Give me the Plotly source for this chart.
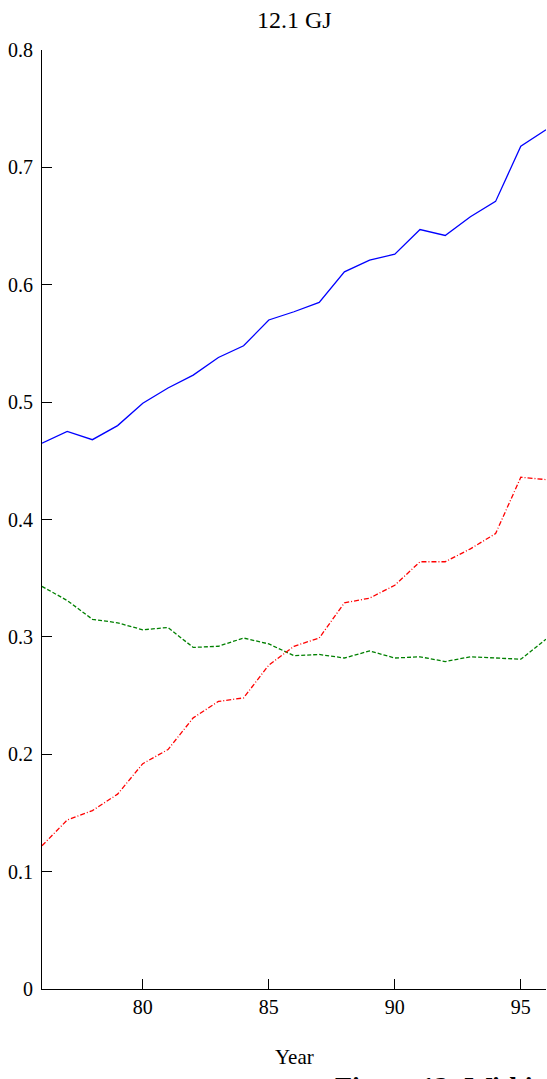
import plotly.graph_objects as go

years = list(range(76, 97))
blue = [0.465, 0.475, 0.468, 0.480, 0.499, 0.512, 0.523, 0.538, 0.548, 0.570, 0.577,
        0.585, 0.611, 0.621, 0.626, 0.647, 0.642, 0.658, 0.671, 0.718, 0.732]
green = [0.343, 0.331, 0.315, 0.312, 0.306, 0.308, 0.291, 0.292, 0.299, 0.294, 0.284,
         0.285, 0.282, 0.288, 0.282, 0.283, 0.279, 0.283, 0.282, 0.281, 0.298]
red = [0.122, 0.144, 0.152, 0.166, 0.192, 0.204, 0.231, 0.245, 0.248, 0.276, 0.292,
       0.299, 0.329, 0.333, 0.344, 0.364, 0.364, 0.375, 0.388, 0.436, 0.434]

y_ticks = [0, 0.1, 0.2, 0.3, 0.4, 0.5, 0.6, 0.7, 0.8]
y_labels = ["0", "0.1", "0.2", "0.3", "0.4", "0.5", "0.6", "0.7", "0.8"]
x_ticks = [80, 85, 90, 95]
x_labels = ["80", "85", "90", "95"]

title_text = "12.1 GJ"
xlabel_text = "Year"
caption_text = "Figure 12: Within"

font_family = "Liberation Serif, Times New Roman, serif"

fig = go.Figure()
fig.add_trace(go.Scatter(x=years, y=blue, mode="lines",
                         line=dict(color="#0000ff", width=1.3)))
fig.add_trace(go.Scatter(x=years, y=green, mode="lines",
                         line=dict(color="#008000", width=1.3, dash="4px,2px")))
fig.add_trace(go.Scatter(x=years, y=red, mode="lines",
                         line=dict(color="#ff0000", width=1.3, dash="5px,2px,1px,2px")))

fig.update_layout(
    width=547, height=1079,
    margin=dict(l=42, r=1, t=50, b=90),
    paper_bgcolor="white", plot_bgcolor="white",
    showlegend=False,
    font=dict(family=font_family, color="black", size=20),
)
fig.update_xaxes(range=[76, 96], tickvals=x_ticks, ticktext=x_labels,
                 ticks="inside", ticklen=10, tickwidth=1, tickcolor="black",
                 showline=True, linecolor="black", linewidth=1.2,
                 showgrid=False, zeroline=False,
                 tickfont=dict(size=20, family=font_family))
fig.update_yaxes(range=[0, 0.8], tickvals=y_ticks, ticktext=y_labels,
                 ticks="inside", ticklen=10, tickwidth=1, tickcolor="black",
                 showline=True, linecolor="black", linewidth=1.2,
                 showgrid=False, zeroline=False, ticklabelstandoff=4,
                 tickfont=dict(size=20, family=font_family))

fig.add_annotation(text=title_text, xref="paper", yref="paper", x=0.5, y=1.0,
                   yshift=30, xanchor="center", yanchor="middle", showarrow=False,
                   font=dict(size=24, family=font_family))
fig.add_annotation(text=xlabel_text, xref="paper", yref="paper", x=0.5, y=0,
                   yshift=-68, xanchor="center", yanchor="middle", showarrow=False,
                   font=dict(size=21, family=font_family))
fig.add_annotation(text="<b>" + caption_text + "</b>", xref="paper", yref="paper",
                   x=0.577, y=0, yshift=-80, xanchor="left", yanchor="top",
                   showarrow=False, font=dict(size=28, family=font_family))

fig.write_html("out.html", config={"displayModeBar": False},
               post_script="document.body.style.margin='0';document.body.style.overflow='hidden';")
